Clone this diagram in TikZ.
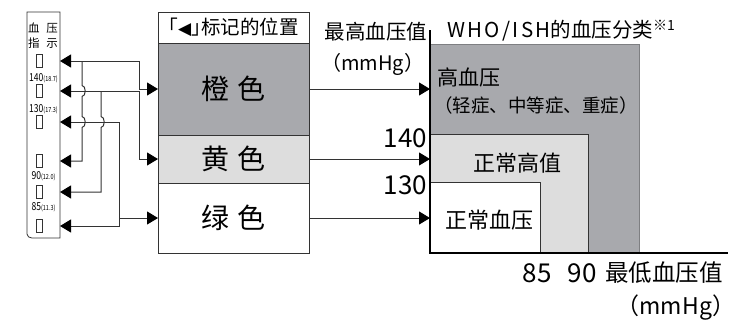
\documentclass[tikz,border=0pt]{standalone}
\usepackage{fontspec}
\setmainfont{Noto Sans CJK SC}
\newfontfamily\symfont{DejaVu Sans}
\usetikzlibrary{arrows.meta,positioning,calc}
\definecolor{bpdark}{HTML}{A8A9AD}
\definecolor{bplight}{HTML}{DDDDDD}
\definecolor{bpline}{HTML}{333333}

\begin{document}
\begin{tikzpicture}[x=1pt,y=-1pt, every node/.style={inner sep=0pt,outer sep=0pt,align=center},
  fs/.style={font=\fontsize{#1}{#1}\selectfont},
  led/.style={draw=bpline,line width=0.8pt,minimum width=6pt,minimum height=13pt},
  band/.style={draw=bpline,line width=0.9pt,minimum width=151pt},
  zone/.style={draw=bpline,line width=0.6pt,anchor=south west},
  wire/.style={bpline,line width=1pt},
  conn/.style={wire,{Triangle[length=11pt,width=13pt,color=black]}-{Triangle[length=11pt,width=13pt,color=black]}},
  feed/.style={wire,-{Triangle[length=11pt,width=13pt,color=black]}}]
\useasboundingbox (0,0) rectangle (737,322);
% indicator strip
\node[minimum width=33pt,minimum height=226pt,anchor=north west] (strip) at (27,12) {};
\draw[bpline,line width=0.8pt] (strip.north west) -- ($(strip.south west)+(0,-4)$) to[out=-90,in=180] ($(strip.south west)+(5,0)$) -- (strip.south east) -- (strip.north east) -- cycle;
\node[fs=11.5] (cap1) at (43,28) {血\hspace{7pt}压};
\node[fs=11.5] (cap2) at (43,43) {指\hspace{7pt}示};
\foreach \i/\y in {1/61,2/91,3/122,4/161,5/192,6/226}
  \node[led] (led\i) at (39,\y) {};
\foreach \n/\v/\k/\y in {a/140/18.7/78,b/130/17.3/109,c/90/12.0/176,d/85/11.3/207}
  \node[fs=11] (mark\n) at (43.5,\y) {\scalebox{0.78}[1]{\v{\fontsize{7}{7}\selectfont(\k)}}};
% colour bands
\node[band,fill=white,minimum height=31pt,fs=19.5,anchor=north west] (hdr) at (158,12) {｢{\symfont\fontsize{17}{17}\selectfont◀}｣标记的位置};
\node[band,fill=bpdark,minimum height=92pt,fs=28,below=0pt of hdr] (orange) {橙\hspace{8pt}色};
\node[band,fill=bplight,minimum height=48pt,fs=28,below=0pt of orange] (yellow) {黄\hspace{8pt}色};
\node[band,fill=white,minimum height=70pt,fs=28,below=0pt of yellow] (green) {绿\hspace{8pt}色};
% classification chart
\coordinate (origin) at (430,253);
\coordinate (ytop) at (430,30);
\coordinate (xend) at (728,253);
\node[zone,fill=bpdark,draw=bpdark!75!black,minimum width=209pt,minimum height=209pt] (hyper) at (origin) {};
\node[zone,fill=bplight,minimum width=158pt,minimum height=119pt] (high) at (origin) {};
\node[zone,fill=white,minimum width=110pt,minimum height=71pt] (normal) at (origin) {};
\draw[line width=1.8pt] (ytop) -- (origin) -- (xend);
\node[fs=21,anchor=west] (hyperlbl) at (437,77) {高血压};
\node[fs=18.5,anchor=west] (hypersub) at (434,105) {（轻症、中等症、重症）};
\node[fs=22] (highlbl) at (517,163) {正常高值};
\node[fs=22] (normlbl) at (489,220) {正常血压};
\node[fs=26,anchor=east] (v140) at (427,138) {140};
\node[fs=26,anchor=east] (v130) at (427,185) {130};
\node[fs=26] (v85) at (537,273) {85};
\node[fs=26] (v90) at (582,273) {90};
\node[fs=23.5,anchor=west] (xlbl) at (605,273) {最低血压值};
\node[fs=23,anchor=east] (xunit) at (735,308) {（mmHg）};
\node[fs=20.5,anchor=east] (ylbl) at (427,32) {最高血压值};
\node[fs=20,anchor=east] (yunit) at (424,64) {（mmHg）};
\node[fs=20.5,anchor=west] (title) at (447,31) {{\addfontfeature{LetterSpace=12}WHO/ISH}的血压分类\raisebox{7pt}{\fontsize{14}{14}\selectfont※1}};
% wiring
\coordinate (busA) at (82,0);
\coordinate (busB) at (101,0);
\coordinate (busC) at (119,0);
\coordinate (busD) at (139,0);
\draw[conn] (orange.west) -| (busD |- led1) -- (led1 -| strip.east);
\draw[conn] (yellow.west) -| (busD |- led2) -- (led2 -| strip.east);
\draw[conn] (led3 -| strip.east) -| (busC |- led6) -- (led6 -| strip.east);
\draw[feed] (busA |- led1) -- ($(busA |- led2)+(0,-5.5)$) to[out=0,in=0] ($(busA |- led2)+(0,5.5)$)
  -- ($(busA |- led3)+(0,-5.5)$) to[out=0,in=0] ($(busA |- led3)+(0,5.5)$) |- (led4 -| strip.east);
\draw[feed] (busB |- led2) -- ($(busB |- led3)+(0,-5.5)$) to[out=0,in=0] ($(busB |- led3)+(0,5.5)$) |- (led5 -| strip.east);
\draw[feed] (busC |- green.west) -- (green.west);
\draw[feed] (orange.east) -- (orange.east -| hyper.west);
\draw[feed] (yellow.east) -- (yellow.east -| hyper.west);
\draw[feed] (green.east) -- (green.east -| hyper.west);
\end{tikzpicture}
\end{document}
